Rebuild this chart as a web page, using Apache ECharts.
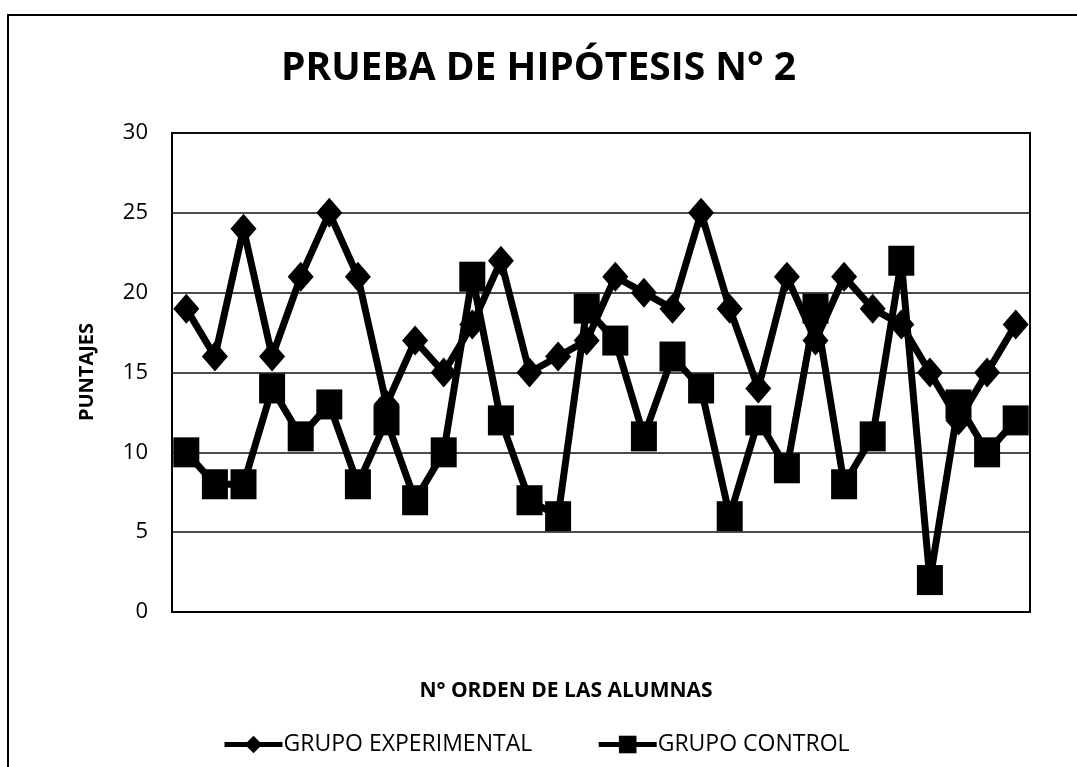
<!DOCTYPE html>
<html>
<head>
<meta charset="utf-8">
<script src="https://cdn.jsdelivr.net/npm/echarts@6/dist/echarts.min.js"></script>
<style>
html,body{margin:0;padding:0;background:#fff;}
#chart{width:1077px;height:767px;}
</style>
</head>
<body>
<div id="chart"></div>
<script>
const categories = ['1','2','3','4','5','6','7','8','9','10','11','12','13','14','15','16','17','18','19','20','21','22','23','24','25','26','27','28','29','30'];
const experimental = [19,16,24,16,21,25,21,13,17,15,18,22,15,16,17,21,20,19,25,19,14,21,17,21,19,18,15,12,15,18];
const control = [10,8,8,14,11,13,8,12,7,10,21,12,7,6,19,17,11,16,14,6,12,9,19,8,11,22,2,13,10,12];
const yTicks = [0,5,10,15,20,25,30];

const FONT = '"Open Sans", sans-serif';
const chart = echarts.init(document.getElementById('chart'), null, {renderer:'canvas'});
chart.setOption({
  backgroundColor:'#fff',
  animation:false,
  title:{
    text:'PRUEBA DE HIPÓTESIS N° 2',
    left:'center', top:44,
    textStyle:{fontFamily:FONT, fontWeight:'bold', fontSize:39, color:'#000'}
  },
  graphic:[
    {type:'rect', shape:{x:8,y:15,width:1090,height:780}, style:{fill:'none', stroke:'#000', lineWidth:2}},
    {type:'text', x:566, y:691, style:{text:'N° ORDEN DE LAS ALUMNAS', font:'bold 21px "Open Sans", sans-serif', fill:'#000', align:'center', verticalAlign:'middle'}},
    {type:'text', x:87, y:372, rotation:Math.PI/2, style:{text:'PUNTAJES', font:'bold 20px "Open Sans", sans-serif', fill:'#000', align:'center', verticalAlign:'middle'}}
  ],
  legend:{
    top:728, left:217,
    itemGap:64, itemWidth:58, itemHeight:22,
    lineStyle:{width:5, color:'#000'},
    textStyle:{fontFamily:FONT, fontSize:23, color:'#000', padding:[0,0,0,-4]},
    data:['GRUPO EXPERIMENTAL','GRUPO CONTROL']
  },
  grid:{left:172, right:47, top:133, bottom:155, show:true, borderColor:'#000', borderWidth:2},
  xAxis:{
    type:'category', data:categories, boundaryGap:true,
    axisLine:{show:true, lineStyle:{color:'#000', width:2}},
    axisTick:{show:false}, axisLabel:{show:false}
  },
  yAxis:{
    type:'value', min:0, max:30, interval:5,
    axisLine:{show:true, lineStyle:{color:'#000', width:2}},
    axisTick:{show:false},
    axisLabel:{fontFamily:FONT, fontSize:22, color:'#000', margin:24,
      formatter:(v)=> yTicks.includes(v) ? String(v) : ''},
    splitLine:{show:true, lineStyle:{color:'#111', width:1.5}}
  },
  series:[
    {name:'GRUPO EXPERIMENTAL', type:'line', data:experimental,
      symbol:'diamond', symbolSize:[26,30], showAllSymbol:true,
      lineStyle:{color:'#000', width:7}, itemStyle:{color:'#000'}},
    {name:'GRUPO CONTROL', type:'line', data:control,
      symbol:'rect', symbolSize:[26,30], showAllSymbol:true,
      lineStyle:{color:'#000', width:7}, itemStyle:{color:'#000'}}
  ]
});
</script>
</body>
</html>
